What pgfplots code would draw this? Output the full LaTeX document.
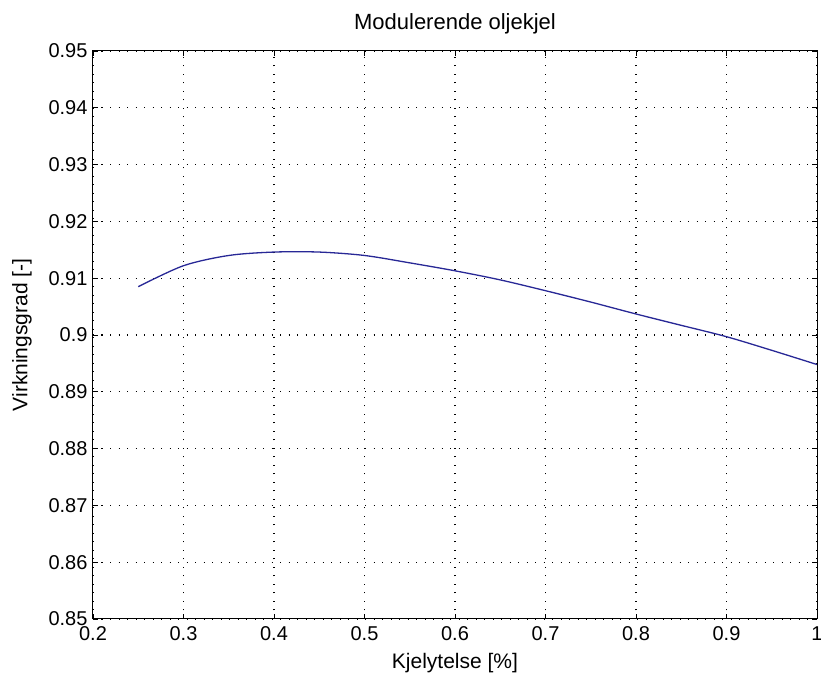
\documentclass[border=0pt]{standalone}
\usepackage{pgfplots}
\pgfplotsset{compat=1.18}
\usepackage{fontspec}
\setmainfont{Liberation Sans}
\definecolor{curve}{RGB}{40,40,150}
\begin{document}
\begin{tikzpicture}
\begin{axis}[
  name=ax,
  scale only axis,
  width=724pt, height=568pt,
  xmin=0.2, xmax=1, ymin=0.85, ymax=0.95,
  xtick={0.2,0.3,0.4,0.5,0.6,0.7,0.8,0.9,1},
  xticklabels={0.2,0.3,0.4,0.5,0.6,0.7,0.8,0.9,1},
  ytick={0.85,0.86,0.87,0.88,0.89,0.9,0.91,0.92,0.93,0.94,0.95},
  yticklabels={0.85,0.86,0.87,0.88,0.89,0.9,0.91,0.92,0.93,0.94,0.95},
  tick align=inside,
  major tick length=5pt,
  tick style={black, line width=0.8pt},
  axis line style={black, line width=1pt},
  grid=major,
  major grid style={black, line width=1.3pt, dash pattern=on 1.2pt off 7.3pt},
  ticklabel style={font=\fontsize{20}{20}\selectfont},
  xticklabel style={yshift=-4pt},
  yticklabel style={xshift=-2pt},
  xlabel={Kjelytelse [\%]},
  ylabel={Virkningsgrad [-]},
  title={Modulerende oljekjel},
  title style={font=\fontsize{22}{22}\selectfont, at={(axis description cs:0.5,1.037)}, anchor=center},
  xlabel style={font=\fontsize{21}{21}\selectfont, at={(axis description cs:0.5,-0.078)}, anchor=center},
  ylabel style={font=\fontsize{21}{21}\selectfont, at={(axis description cs:-0.098,0.5)}, anchor=center},
]
\addplot[curve, line width=1.3pt, smooth] coordinates {
  (0.25,0.9085) (0.30,0.9122) (0.35,0.9140) (0.40,0.9146) (0.45,0.9146)
  (0.50,0.9140) (0.55,0.9127) (0.60,0.9113) (0.65,0.9097) (0.70,0.9078)
  (0.75,0.9058) (0.80,0.9037) (0.85,0.9017) (0.90,0.8997) (0.95,0.8973)
  (1.00,0.8948)
};
\end{axis}
\pgfresetboundingbox
\path[use as bounding box] ([xshift=-93pt,yshift=-60pt]ax.south west) rectangle ([xshift=4pt,yshift=51pt]ax.north east);
\end{tikzpicture}
\end{document}
